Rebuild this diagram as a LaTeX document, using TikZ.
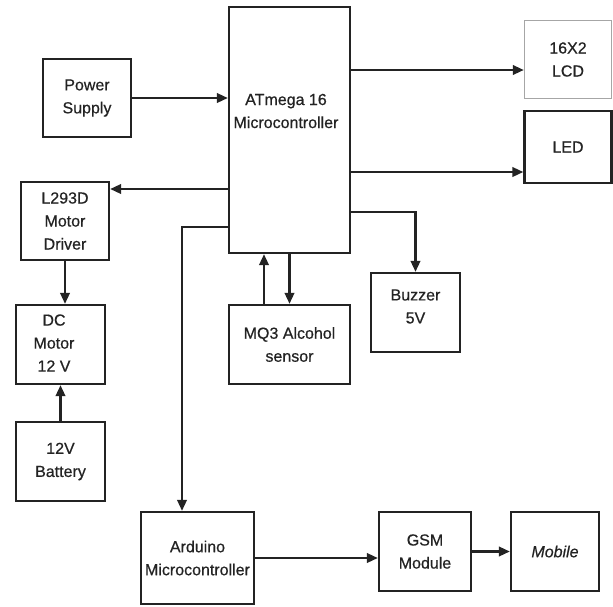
\documentclass[tikz,border=0pt]{standalone}
\usepackage{fontspec}
\setmainfont{Liberation Sans}[BoldFont={Liberation Sans},BoldFeatures={FakeBold=0.5},BoldItalicFont={Liberation Sans Italic},BoldItalicFeatures={FakeBold=0.5}]
\usetikzlibrary{arrows.meta}
\definecolor{ink}{HTML}{232323}
\tikzset{
  box/.style={draw=ink, line width=2.3pt, fill=white, inner sep=0pt, align=center,
    font=\fontsize{16}{23}\selectfont\bfseries, text=ink},
  lbl/.style={inner sep=0pt, align=center, font=\fontsize{16}{23}\selectfont\bfseries, text=ink},
  arr/.style={draw=ink, line width=2.3pt, -{Triangle[length=11pt,width=9.5pt]}},
}
\begin{document}
\begin{tikzpicture}[x=1pt,y=-1pt]
\useasboundingbox (0,0) rectangle (613,606);
% boxes
\node[box, minimum width=121pt, minimum height=246pt] (atm) at (289.5,130) {};
\node[lbl] (atmt) at (286,111) {ATmega 16\\Microcontroller};
\node[box, minimum width=88pt, minimum height=78pt] (ps) at (87,98) {Power\\Supply};
\node[box, draw=gray!70, line width=1.4pt, minimum width=87pt, minimum height=78pt] (lcd) at (568,59.5) {16X2\\LCD};
\node[box, minimum width=87pt, minimum height=72pt] (led) at (568,147) {LED};
\node[box, minimum width=88pt, minimum height=78pt] (l293) at (65,221) {L293D\\Motor\\Driver};
\node[box, minimum width=89pt, minimum height=79pt] (dc) at (60.5,344.5) {};
\node[lbl] (dct) at (54,343) {DC\\Motor\\12 V};
\node[box, minimum width=89pt, minimum height=79pt] (bat) at (60.5,461.5) {12V\\Battery};
\node[box, minimum width=121pt, minimum height=79pt] (mq3) at (289.5,344.5) {MQ3 Alcohol\\sensor};
\node[box, minimum width=89pt, minimum height=79pt] (buz) at (415.5,312.5) {};
\node[lbl] (buzt) at (415.5,306.5) {Buzzer\\5V};
\node[box, minimum width=113pt, minimum height=92pt] (ard) at (197.5,558) {Arduino\\Microcontroller};
\node[box, minimum width=92pt, minimum height=79pt] (gsm) at (425,551.5) {GSM\\Module};
\node[box, minimum width=88pt, minimum height=79pt] (mob) at (555,551.5) {\itshape Mobile};
% helper coordinates
\coordinate (lcdin) at ([yshift=-10.5pt]lcd.west);
\coordinate (ledin) at ([yshift=-25pt]led.west);
\coordinate (l293in) at ([yshift=32pt]l293.east);
\coordinate (ardin) at ([xshift=-15.5pt]ard.north);
\coordinate (ardout) at ([yshift=-97pt]atm.west);
\coordinate (buzout) at ([yshift=-82pt]atm.east);
\coordinate (mq3up) at ([xshift=-25.5pt]mq3.north);
% connectors
\draw[arr] (ps.east) -- (ps.east -| atm.west);
\draw[arr] (atm.east |- lcdin) -- (lcdin);
\draw[arr] (atm.east |- ledin) -- (ledin);
\draw[arr] (atm.west |- l293in) -- (l293in);
\draw[arr] (ardout) -| (ardin);
\draw[arr] (buzout) -| (buz.north);
\draw[arr] (mq3up) -- (mq3up |- atm.south);
\draw[arr] (atm.south -| mq3.north) -- (mq3.north);
\draw[arr] (l293.south) -- (l293.south |- dc.north);
\draw[arr] (bat.north) -- (dc.south);
\draw[arr] (ard.east) -- (ard.east -| gsm.west);
\draw[arr] (gsm.east) -- (gsm.east -| mob.west);
\end{tikzpicture}
\end{document}
